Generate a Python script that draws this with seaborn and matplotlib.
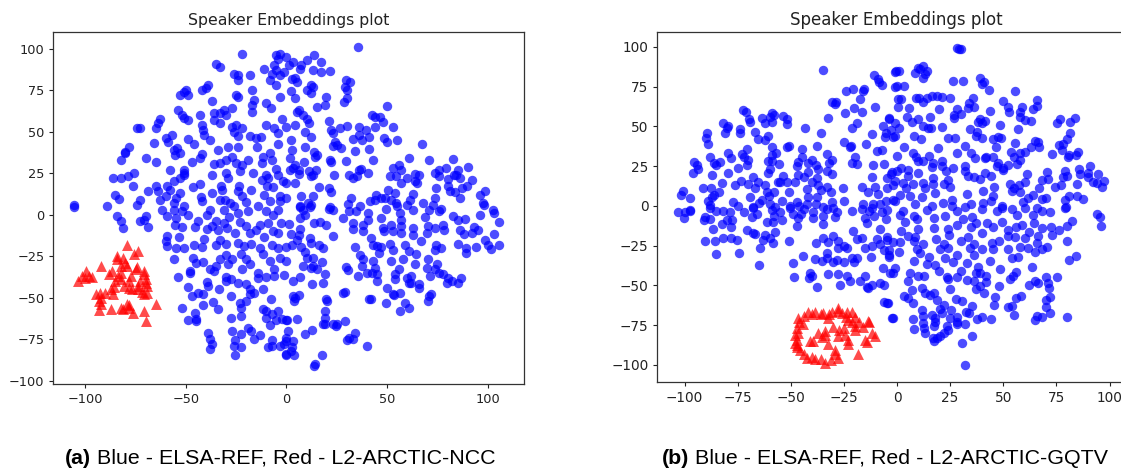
import pandas as pd
import matplotlib
matplotlib.use('Agg')
import matplotlib.pyplot as plt
import seaborn as sns

# punti (x, y)
a_blue = [
(-22,97),(-35,91),(-33,89),(-3.4,97),(-5,96),(-26,85),(-18,84),(-24,81),(-11,88),(-5,87),(-8,81),(-5,78),
(-39,78),(-42,75),(-50,75),(-53,72),(-49,72),(-17,75),(-24,71),(-3,71),(-37,68.5),(-17,66),(-10,67),(-7.5,64),
(-17,62),(-31,63),(-27,64),(-54,63),(-51,58),(-43,60),(-36,61),(-36,57),(-33,55),(-63,57.5),(-65,52),(-74.5,52),
(-41.5,51),(-42,54),(-25,54),(-27,53),(-24,47.5),(-18,47.5),(-12.5,47),(-10,54),(-2,57.5),(-4,49),(-60,46),(-57,48),
(-66,43),(-49,45.5),(-38,45),(-46,42.5),(-78,41),(-80,38),(-54.6,40),(-55.5,36),(-34,39),(-29,41),(-24,40.5),
(-14.6,40.7),(-4,42.5),(-42,36.5),(-27,35),(-11.6,35),(-8,37),(-82.4,33),(-70,34),(-65,31.7),(-47,31.5),(-36,30.5),
(-33,31),(-19,33),(-22,30),(-58,26.7),(-51,27),(-51,23.6),(-37,23.7),(-30,25),(-23,26),(-16.6,25),(-10,24),(-5,27.5),
(-76,25),(-78.6,23),(-86,22),(-82,22),(-76.5,17.4),(-65,17),(-56,20.4),(-59.6,17),(-68.7,14),(-52.7,13),(-46.4,16.4),
(-43,18.6),(-42.6,10.4),(-36.8,13),(-32.6,17.4),(-32,15),(-23.7,17.4),(-24,14),(-17.8,15),(-11.3,12),(-9.7,17),
(-6.7,16.6),(-1.7,20),(-3.4,11),(-85,12),(-83,9.6),(-73,9),(-74.5,5.6),(-63,9),(-60,11),(-56,7),(-51,5),(-30.7,8.6),
(-26,5),(-20,7.4),(-14,5),(-105.6,6),(-105.6,4.6),(-89.4,5.4),
(-84,-1),(-82,-4),(-81,-8),(-70,-1),(-73,-4),(-69,-7.6),(-59.6,-1),(-55.5,-6),(-52,-7.6),(-49,0),(-39.7,0),(-34.8,-3.6),
(-28.7,-1.6),(-23,-4.4),(-13,-6),(-6.7,0),(-2.5,-5),(-45.5,-7.6),(-39.7,-8.4),(-34,-9),(-29.5,-8),(-25.7,-11),(-18,-11),
(-6.7,-10),(-59.6,-13),(-53.3,-13.7),(-41,-14.7),(-11,-13.5),(-59.6,-19),(-51,-20),(-42,-19.7),(-35,-18.5),(-30,-17.7),
(-24,-17),(-17.4,-17.7),(-7,-18.5),(0,-19.7),(-55.8,-27),(-46.4,-26),(-41.7,-28.5),(-30,-24.5),(-22.4,-24),(-20,-27),
(-11.6,-24),(-3.4,-26),(0,-28),(-34.8,-31),(-29,-30),(-22,-32.5),(-6.4,-32.5),(-48,-33.7),(-53.8,-37.5),(-14,-35),
(-1,-36.5),(-30,-37.5),(-27.4,-39),(-10,-37.5),(-39.7,-40.8),(-24,-41),(-49,-43.6),(-33.6,-44.6),(-18,-45),(-11.6,-45),
(-41.4,-47.8),(-46.7,-49),(-27.7,-49),(-18,-48),(-7.5,-50.6),(-36.5,-52.6),(-41.4,-54.6),(-20,-52),(-52,-56),(-34,-57),
(-22.4,-56),(-11.6,-57),(-4,-58),(-45.5,-59),(-48.9,-63.7),(-45,-62.6),(-27.4,-62),(-22.4,-61),(-10,-62),(0,-63.7),
(-8.3,-66.7),(-5,-63.3),(-39,-71),(-37.8,-75),(-27,-70),(-17.4,-70),(-13,-72.7),(-16,-75),(-22.7,-72),(-25.7,-75.3),
(-22.4,-80),(-37.8,-80.7),(-9,-80),(-7,-75.3),(-3.4,-79.3),(0,-74),(-25.4,-84.3),(0,-84),
(35.4,101),(13.5,96.3),(0,95),(10,93),(17.3,92),(1,90),(6.6,87.7),(13,87),(21.5,86.3),(2.5,81.7),(5.4,80),(29.7,81),
(31.4,80),(30,75),(2,74.7),(10,75),(13,77),(12.4,73),(4,70),(19.8,70.6),(28.6,68),(15.4,64.8),(19,66),(50,65.2),(6,62.8),
(42.5,60),(46.3,58.8),(10,57.6),(21.2,56.6),(30,53.6),(26.4,52),(44,53),(52.9,53),(35.9,52.8),(39.7,51),(4,53.8),(0,52.6),
(22.3,51),(9,50),(12,47),(2,45),(33,45.7),(37.5,45),(48.4,46),(55,45),(67.3,42.7),(24,44),(23,41.5),(9.4,40.5),(27,40),
(2.5,38.7),(13.7,38),(34,38.5),(41,39.7),(14,35),(1.6,34),(21.5,33),(43,33),(61,34),(71,32.7),(82.7,33.5),(29.8,32.5),
(56,30),(8.6,31.5),(4,30),(22,31.5),(90,28.7),(37.2,27.5),(40.5,25),(75.6,26.7),(85,27),(1.6,27),(14.5,27),(51.6,23.4),
(63.7,24.4),(66,24),(73.6,25),(6,24.6),(12.4,23),(23.6,24),(33,22),(54.6,23),(80,21.6),(84.3,24),(92,20.6),(57,19),(65,19),
(4,19),(0,19),(16,16.6),(21,16),(89.8,17),(74.4,16),(80.2,17),(50.4,15),(98.4,14),(22.3,13.4),(83.8,13.4),(44.6,12),
(53.7,13),(62.8,12.6),(96,12),(7.4,11),(13.2,11),(86,10),(32.2,10),(61.2,9),(73.6,10),(97.5,7),(41.3,8),(67.8,7),(48.8,10),
(54.5,7),(10.7,7),(30.6,6.6),(6.6,5),(21.5,4.4),(36.4,5),(102.5,3),(77,3.4),(0,10),
(21.2,3.6),(6.6,4.4),(11.5,4.4),(98,5.6),(34.7,2),(40.5,1),(49.6,3.6),(56.2,1),(62.8,3),(68.6,-1.6),(76,2),(28,-2),(47,-2),
(9,-0.4),(6.6,-2),(1,-5.6),(13.7,-5),(16.5,-4.4),(19.8,-6.4),(40.5,-3),(57,-3),(82.7,-1),(88.5,-2.4),(96,0),(103,1),
(105.8,-4.4),(33,-8.4),(38,-10),(52,-6.4),(62.8,-8),(70.3,-7),(78.5,-9),(93.4,-7.6),(6.6,-8.4),(2,-11.6),(23.2,-12.7),
(48.4,-10),(57,-11),(88,-11.7),(103,-11.7),(11.5,-14),(67,-16),(98.4,-15),(51.2,-17.5),(43,-18.5),(34,-19.5),(58.7,-18),
(74.4,-18),(85.2,-17.7),(94,-19.5),(105.4,-18.5),(101.4,-20.5),(2.5,-18.5),(7.4,-19.5),(18,-20),(89.3,-20),(89,-23),
(36.7,-24.5),(47,-19.7),(9,-22.5),(64.5,-23.7),(58,-26.7),(70.3,-27),(13.2,-26),(51.7,-28),(17.8,-28.5),(64,-30),(43,-28),
(75,-30),(8.2,-31),(12.4,-32),(29.4,-31.5),(37.5,-31),(30.6,-33.5),(76,-35),(19.3,-35.5),(53.7,-35.5),(42.5,-35),(35.5,-37),
(62,-37),(86.8,-38),(71.4,-37),(80.2,-38),(6.6,-37.7),(3.3,-40),(18.2,-41),(12.7,-42),(45,-40),(54,-39),(61,-41),(66,-41.6),
(85,-41),(79.7,-41),(65.8,-44),(50,-44),(29.3,-46.8),(56.2,-47.2),(72,-47.6),(53.4,-48.6),(41.8,-50.6),(6,-48.6),(19.8,-51),
(3.8,-52),(70.3,-52),(49.3,-53),(58.7,-53),(60.7,-56),(56.5,-58),(19,-58),(19.3,-62),(5,-63),(0.5,-63.7),(29,-64),(18.2,-66),
(23.1,-66),(24.8,-67.3),(0.8,-70),(12.7,-69.3),(9.4,-72),(34.2,-71.3),(30,-75.3),(33,-74.7),(0,-76),(40,-79),(2.5,-80),
(3.8,-84.3),(17.7,-84.3),(14.4,-90),(13.7,-91.4),(0,-84.3),
# punti sovrapposti
(-24,84),(-4,94),(-6,90),(-7,85),(-3,84),(-40,76),(-51,74),(-25,72),(-16,69),(-33,61),(-30,60),(-52,60),(-49,57),(-64,55),(-73,52),
(-41,48),(-26,50),(-22,52),(-15,46),(-6,52),(-59,44),(-56,39),(-53,37),(-80,37),(-43,34),(-30,33),(-25,31),(-12,31),(-7,33),(-51,25),
(-53,22),(-29,22),(-12,21),(-9,22),(-4,24),(-64,14),(-58,15),(-55,10),(-42,8),(-33,9),(-28,7),(-22,11),(-8,8),(-3,8),(-62,3),(-56,3),
(-52,2),(-38,3),(-31,3),(-24,1),(-19,2),(-10,2),(-4,3),(-71,-3),(-55,-2),(-44,-4),(-37,-7),(-31,-5),(-20,-7),(-15,-9),(-9,-5),(-4,-11),
(-60,-16),(-55,-20),(-46,-18),(-33,-15),(-21,-19),(-13,-20),(-4,-20),(-45,-29),(-38,-33),(-33,-27),(-27,-27),(-18,-30),(-8,-28),(-48,-35),
(-36,-34),(-14,-38),(-6,-37),(-39,-43),(-30,-40),(-20,-42),(-16,-47),(-44,-47),(-23,-53),(-45,-64),(-19,-68),(-10,-58),(-7,-60),(-2,-63),
(-26,-79),(-37,-78),(-7,-79),(-1,-78),
(3,92),(-1,86),(7,90),(17,86),(4,82),(12,78),(29,77),(30,70),(5,62),(8,60),(11,55),(44,59),(48,56),(23,49),(36,48),(41,47),(50,44),(25,42),
(15,36),(3,28),(6,27),(13,24),(11,26),(31,24),(35,23),(36,27),(53,28),(57,27),(60,22),(64,20),(79,28),(83,24),(86,22),(76,23),(87,16),(81,14),
(47,10),(52,9),(55,5),(60,6),(44,9),(12,6),(8,3),(23,3),(31,2),(71,3),(73,6),(33,-5),(38,-6),(48,-8),(53,-10),(57,-7),(70,-11),(74,-8),(78,-6),
(85,-3),(86,-9),(95,-9),(92,-11),(100,-18),(63,-12),(42,-14),(45,-19),(46,-23),(53,-21),(61,-22),(74,-21),(77,-20),(6,-12),(5,-15),(12,-17),
(16,-18),(10,-26),(13,-31),(15,-33),(38,-27),(44,-32),(40,-35),(45,-36),(56,-33),(60,-38),(62,-41),(70,-32),(74,-33),(78,-36),(82,-40),(28,-47),
(41,-51),(3,-49),(4,-50),(20,-52),(71,-49),(53,-48),(25,-66),(19,-66),(31,-74),(2,-82),(3,-76),
]
a_red = [
(-79,-18.5),(-74,-22),(-76,-24),(-84,-25),(-81,-26),(-92,-31),(-99.6,-34),(-79,-31),(-74.5,-31.5),(-82,-31),(-101.8,-36.8),
(-96.8,-37.8),(-103.4,-39.8),(-86.6,-34),(-83.6,-36.8),(-77.3,-36.8),(-70.7,-34),(-70,-39),(-80.8,-43),(-85.6,-43.6),
(-77,-45),(-69.5,-43),(-72,-46.6),(-92.7,-47),(-86,-48),(-69.5,-47),(-93,-52),(-79,-54),(-65,-53.6),(-82.4,-56),(-87.4,-57),
(-93,-57.6),(-76.5,-59),(-71,-58),(-70,-64),(-94.4,-48),(-73.7,-45),(-78,-54.2),
(-84,-27),(-80,-29),(-75,-33),(-71,-36),(-88,-36),(-85,-40),(-82,-39),(-78,-40),(-73,-40),(-70,-41),(-92,-50),(-90,-47),(-87,-45),
(-78,-44),(-74,-43),(-71,-48),(-98,-37),(-100,-38),(-82,-35),(-92,-54),(-81,-57),(-78,-56),
]
b_blue = [
(-35,85.3),(-10.7,82.4),(-8.5,78.2),(-7.2,76),(-24,72.5),(-20.9,73.6),(-15.4,73.6),(-1.2,84.5),(-1,75),(-17.4,67),(-30.7,65.6),
(-28.7,65.2),(-10.3,62),(-72.3,60.4),(-59,58.3),(-53.5,56.6),(-24.5,58.3),(-20.2,61.4),(-16.6,59.3),(-32.6,55.6),(-69.6,54.5),
(-63.4,55.6),(-59,53),(-81.7,52),(-79.4,50),(-52,51.4),(-4,55),(-19,52),(-21.3,48.9),(-43.3,49.3),(-73.9,48.4),(-81,45.7),
(-66.8,46.8),(-35.9,45.7),(-6.7,50),(-89.6,45.7),(-60.6,44.3),(-11.9,45.1),(-5.6,43.6),(-1.2,44),(-65.3,42),(-62.1,41.5),
(-89.1,38.8),(-24.8,40),(-21.6,38),(-14.7,38.8),(-50.7,38),(-37.8,38),(-59,37.3),(-44.8,35.9),(-70.8,35.9),(-9.6,34.8),
(-7.2,35.2),(-79.7,33.6),(-73.1,32.7),(-59,32),(-33.1,32.5),(-88,30.6),(-78.1,30),(-19.8,30.6),(-44.8,31),(-95.4,27.5),
(-86,26.9),(-83.3,27.9),(-70.8,25.8),(-46.4,27.5),(-40.2,29),(-55.5,26.4),(-30.7,29),(-32,26.9),(-21.3,27.3),(-19,26.4),
(-11.1,25.8),(-6.1,26.2),(-60.6,28),(-93.5,23.3),(-96.2,21),(-75,24),(-79.4,21),(-60.6,20.6),(-42,21.6),(-37,23),(-87.2,19.5),
(-67.6,18.5),(-53.5,18.9),(-46.4,19.3),(-30.7,20),(-37.8,17.8),(-11.9,18.5),(-2.5,21.6),(-4.9,17.4),(-73.4,16),(-65.6,15),
(-82.2,14.7),(-55,15.3),(-76.2,13.2),(-91.5,11.6),(-25.6,11.6),(-16.6,11.8),(-10.3,12.2),(-4.9,11.1),(-33.1,12.2),(-42.5,10.7),
(-87.5,11.1),(-100.6,9.7),(-101.7,7),(-61.3,8.6),(-51,8.6),(-13.5,8.6),(-97.4,5.3),(-87.2,5.9),(-69.2,5.9),(-60.2,6.5),
(-41.7,5.9),(-37.8,5.9),(-8.8,7.4),(-77,2.8),(-63.7,3.8),(-1.7,3.8),(-30.7,2.4),(-15.8,1.3),(-11.1,1.3),(-47.2,2.8),(-88,0.7),
(-67.6,-0.4),(-57.4,-0.4),(-50.4,0.2),(-42.5,1.3),(-34.7,-0.4),(-97.4,-2.5),
(-102.9,-4),(-97.4,-3),(-100.1,-7.8),(-90.4,-6.7),(-91.1,-8.8),(-88,-1),(-81.7,-3),(-78.6,-3.6),(-77.5,-8.8),(-82.5,-11.3),
(-78.1,-13),(-86.8,-14.5),(-68.4,-6.7),(-67.6,-1.5),(-59,-2.5),(-54.3,-8.8),(-61.3,-9.8),(-58.2,-10.3),(-50.4,-1.5),(-46.4,-7.3),
(-39.4,-3.6),(-39.8,-7.3),(-47.2,-12.4),(-34.7,-11.3),(-33.1,-1.9),(-29.2,-6.7),(-28.4,-3.6),(-16.6,-1.9),(-15,-7.8),(-7.2,-3.6),
(-11.9,-1),(-70.8,-15),(-66.8,-17.8),(-62.1,-18.2),(-57.4,-16.6),(-20.9,-15.5),(-8,-14.5),(-90.4,-22),(-85.6,-22),(-81.7,-20.3),
(-75.5,-21.4),(-62.9,-21.4),(-58.2,-23.5),(-51.1,-21.8),(-38.1,-23.5),(-30,-18.7),(-32.3,-22.4),(-19,-20.7),(-16.6,-20.3),
(-9.6,-21),(-4.9,-19.3),(-1.7,-22.4),(-64.5,-26.2),(-85.2,-30.2),(-74.4,-29.8),(-27.6,-26.6),(-23.7,-26.2),(-15,-26.6),
(-33.1,-29.8),(-4,-27.7),(-44.1,-31.2),(-38.6,-33.5),(-35.4,-34.6),(-28.4,-34),(-12.2,-31.9),(-4,-31.9),(-20.5,-35.4),(-19,-32.5),
(-48.8,-36),(-65,-37.3),(-6.4,-39.2),(-41,-42.3),(-32.3,-43),(-27.9,-42.8),(-23.7,-43.8),(-48.5,-44.4),(-15,-43.8),(-17.4,-47),
(-1.7,-42.3),(-41.4,-45),(-12,-49.7),(-8,-48.6),(-26.8,-49.7),(-37.5,-51.1),(-13.5,-51.4),(-6,-60.1),(-4.5,-61.2),(-2.2,-70.6),
(28.1,99.6),(30.1,99),(-0.6,84.9),(12.4,88),(10,86.6),(8.5,83.5),(14,85),(12.4,80.3),(26.2,78.8),(30.9,78.6),(39,80.3),(40.2,76.5),
(43.5,73),(55.7,72.3),(-0.2,75.5),(3.4,75.5),(0.6,67.1),(10.5,67.7),(16.3,69.4),(21,68.4),(24.9,67.7),(35.6,68.2),(50,66),(65.7,66.7),
(0.6,62),(5.8,61.4),(12.4,65.2),(19.9,60.8),(28.1,60.8),(33.6,61.4),(43.8,59.6),(52.7,59.3),(58.7,62),(65.7,62.9),(57.9,56.2),
(-3.6,55.2),(4.5,55.8),(10,54.5),(15.5,56.2),(26.8,55.2),(39,54.5),(41.4,53.7),(63,53.7),(76.7,54.5),(83.8,55.2),(75.1,52),(81.4,53),
(14.4,48.9),(21,49.5),(48.5,51),(0.9,48.9),(34.4,48.4),(56.8,48.2),(81.4,46.1),(8.1,44),(11.3,42),(23.8,42.6),(27.3,42.6),(37.5,46.8),
(39.8,42.6),(47.7,43.6),(-1.7,43.6),(55.5,39.9),(66.2,40.5),(79.9,42),(32,38),(46.4,37.3),(3.4,37.3),(19.1,36.3),(63.1,36.9),(76,38.4),
(77.5,35.2),(53.7,34.2),(28.1,33.2),(-0.2,31.5),(7.7,33.2),(73.1,32.5),(85.4,34.2),(80.6,31),(15.1,31.5),(36.7,30),(41.4,30),(57.9,29),
(10,28.5),(21,28.5),(47.7,27.3),(56.3,26.4),(32,25.2),(90.8,25.2),(26.5,23.7),(16.3,24.4),(50,22.7),(85.8,23),(79.1,22.3),(70.5,21.6),
(61,20.2),(5.3,22.7),(-0.2,22.3),(10,20.6),(41.4,20.6),(33.6,19.1),(17.1,17.4),(94.8,19.9),(89.7,18.1),(78.3,18.1),(68.4,16.4),(97.6,15.7),
(24.2,16.4),(3,14.7),(12.4,14.7),(7.7,13.9),(53.2,13.9),(57.4,13.4),(74.4,11.8),(45.8,12.2),(84.6,13.9),(94,14.3),(96.3,11.8),(24.9,11.8),
(-1.7,13.2),(66.8,11.1),(54,9.7),(40.3,9.7),(17.9,8),(32.8,7.6),(1.4,7),(11.6,5.9),(6.1,6.5),(45,6.5),(84.6,6.5),(87.7,4.4),(68.1,4.2),
(61.8,4.9),(59.5,2.8),(79.1,3.8),(25.7,3.8),(40.6,1.7),(-0.9,3.4),(8.5,1.3),(21.8,1.7),(49.3,0),(32,-0.4),(16.3,0),(79.4,-0.4),
(-4.9,-2.5),(1.4,-5.7),(14,-2.5),(22.6,-6.3),(31.2,-8.4),(39.9,-1.9),(49.3,-1),(56.3,-5.7),(68.1,-3.1),(79.1,-1),(17.6,-7.8),(9.2,-8.2),
(3.8,-10.3),(35.5,-7.1),(42.2,-10.9),(49.3,-9.8),(64.5,-10.5),(64.2,-5.7),(94,-5.2),(95.5,-6.7),(96,-12.6),(82.2,-9.2),(79.9,-12.4),
(10,-14.5),(17.4,-14),(24.2,-14.5),(34.8,-13),(39.9,-17.2),(52.4,-15.1),(58.7,-12),(72.3,-13),(1.9,-15.7),(8.5,-19.7),(24.5,-18.2),
(33.6,-19.3),(55.5,-19.7),(66.5,-18.7),(72.8,-18.2),(62.1,-16.1),(18.4,-21),(-4.9,-21.4),(1.4,-22.4),(79.9,-22),(44.6,-23.5),(9.3,-27),
(24.2,-26.6),(20.2,-27.2),(34.4,-26.6),(52.4,-27.2),(61.8,-26.6),(70.8,-25.6),(0.9,-29.1),(-4,-30.8),(10.8,-29.3),(45.3,-27),(64.7,-28.7),
(84.1,-31.2),(81,-34),(36.4,-30.8),(57.1,-31.9),(54,-33),(22.6,-32.9),(8,-34.6),(26.5,-35),(43.8,-34.4),(14.3,-36.3),(63.7,-38.1),
(38.3,-38.1),(-0.9,-39.2),(48.5,-39.8),(19.8,-40.9),(30.1,-40.7),(55.9,-41.3),(-3.3,-42.3),(39.1,-42.3),(54.8,-43.8),(12.9,-43.8),
(23.4,-44.4),(28.1,-44.9),(32.8,-46.5),(70.1,-44.9),(75.2,-44.9),(5,-47.2),(66.2,-48.6),(62.1,-49.7),(71.2,-48.6),(48.2,-50.3),(11.9,-51.4),
(39.1,-50.3),(37,-52.2),(71.7,-51.4),(41.1,-54.7),(17.6,-54.9),(15.5,-56),(3.4,-56.4),(5,-58),(58.4,-56.6),(72,-57),(55.9,-58),(27.6,-58.7),
(30.7,-59.7),(7.7,-61.2),(-4.9,-61.2),(35.1,-62.9),(45.7,-62.2),(54,-62.7),(52.1,-63.7),(70.1,-63.3),(11.9,-65.4),(20.2,-65),(25.3,-65.4),
(32.5,-66.4),(72,-67),(55.2,-68.5),(79.9,-69.6),(-1.7,-70.6),(7.7,-71.3),(16.3,-68.5),(17.9,-70.6),(24.9,-70.6),(39.9,-69.6),(44.1,-71.3),
(37.5,-71.1),(65,-71.7),(68.1,-69.6),(12.4,-73.8),(28.1,-72.7),(32,-74.2),(17.6,-75.2),(8.1,-77.4),(23.4,-75.2),(23.8,-78),(12.9,-76.5),
(20.2,-81.5),(17.1,-82.8),(17.6,-84.9),(35.5,-81.5),(30.7,-86.1),(32,-100),
# punti sovrapposti
(-9,80),(-16,72),(-29,64),(-71,59),(-58,57),(-60,56),(-69,53),(-52,55),(-80,49),(-62,52),(-74,46),(-90,43),(-5,46),(-3,48),(-22,37),(-52,37),
(-57,33),(-59,28),(-72,31),(-70,29),(-85,26),(-94,26),(-47,25),(-42,27),(-38,26),(-33,22),(-60,23),(-56,15),(-52,15),(-48,15),(-44,18),(-37,13),
(-36,10),(-40,15),(-31,9),(-70,14),(-67,11),(-62,13),(-58,9),(-86,7),(-84,9),(-89,3),(-85,-3),(-75,0),(-72,-4),(-65,2),(-60,1),(-54,3),(-46,0),
(-44,-2),(-38,1),(-30,-1),(-25,3),(-21,-3),(-13,-3),(-8,1),(-5,3),(-100,-4),(-88,-8),(-80,-9),(-66,-5),(-58,-6),(-55,-4),(-49,-5),(-45,-5),(-35,-6),
(-14,-11),(-11,-6),(-5,-8),(-68,-17),(-60,-20),(-78,-20),(-35,-20),(-28,-22),(-25,-25),(-12,-25),(-8,-24),(-6,-28),(-33,-33),(-30,-35),(-25,-35),
(-21,-33),(-40,-44),(-22,-47),(-14,-51),(-6,-50),
(11,86),(13,83),(1,85),(29,99),(41,78),(2,67),(9,68),(14,68),(19,69),(34,65),(36,62),(30,58),(27,57),(38,53),(40,52),(7,53),(12,50),(16,49),(-1,52),
(37,44),(49,43),(45,42),(52,62),(58,59),(64,61),(60,54),(65,41),(67,37),(78,39),(60,34),(58,33),(55,31),(84,32),(81,32),(35,33),(42,31),(45,31),
(52,26),(50,24),(47,25),(12,28),(9,31),(17,27),(21,25),(23,22),(32,22),(36,18),(39,17),(44,19),(2,24),(5,19),(-3,20),(-1,16),(4,11),(13,11),(17,14),
(22,14),(60,15),(71,17),(77,13),(80,19),(86,20),(90,21),(92,15),(55,11),(58,9),(64,7),(70,5),(81,6),(26,0),(35,1),(44,3),(47,-3),(54,-2),(60,-1),
(66,-1),(72,-4),(3,-3),(8,-6),(28,-3),(28,-12),(37,-11),(45,-13),(52,-19),(56,-13),(60,-20),(68,-14),(76,-15),(5,-19),(8,-22),(12,-24),(22,-24),
(30,-22),(36,-24),(40,-27),(48,-22),(58,-26),(66,-23),(68,-27),(28,-31),(33,-36),(15,-32),(18,-37),(37,-42),(42,-44),(6,-42),(10,-44),(24,-46),
(36,-47),(42,-48),(53,-46),(65,-47),(7,-53),(13,-55),(25,-52),(46,-57),(70,-59),(19,-59),(22,-62),(12,-69),(21,-67),(18,-73),(28,-70),(34,-67),
(13,-80),(19,-83),(22,-80),(28,-74),(66,-69),
]
b_red = [
(-42,-66.9),(-38.6,-66.9),(-34.7,-67.5),(-30.7,-66.4),(-27.9,-64.3),(-23.7,-66.4),(-21.3,-66.9),(-32.3,-70.6),(-46.4,-70.6),(-22.9,-71.7),
(-13.5,-72.3),(-44.1,-74.4),(-19.7,-75.2),(-33.9,-78.6),(-27.3,-78),(-46.4,-80),(-24.5,-81.1),(-35.4,-82.2),(-11.9,-80),(-10.4,-81.5),
(-39.8,-84.9),(-47.2,-84.3),(-14.3,-85.7),(-32.6,-87),(-22.9,-87),(-45.6,-90.5),(-29.2,-90.5),(-18.5,-93),(-27.9,-95.4),(-42.5,-95.8),
(-38.6,-96.2),(-33.9,-98.5),(-47.2,-87.4),(-21.3,-73.1),
(-46,-73),(-44,-69),(-40,-68),(-36,-68),(-32,-68),(-28,-66),(-26,-67),(-24,-70),(-20,-70),(-18,-73),(-16,-76),(-20,-78),(-25,-77),(-47,-77),
(-48,-81),(-48,-86),(-47,-89),(-44,-93),(-40,-95),(-36,-96),(-31,-97),(-29,-93),(-13,-73),(-34,-81),(-37,-80),(-30,-76),(-23,-84),(-28,-82),
(-15,-84),(-41,-85),
]

title = 'Speaker Embeddings plot'
a_xticks = [-100, -50, 0, 50, 100]
a_yticks = [-100, -75, -50, -25, 0, 25, 50, 75, 100]
b_xticks = [-100, -75, -50, -25, 0, 25, 50, 75, 100]
b_yticks = [-100, -75, -50, -25, 0, 25, 50, 75, 100]

sns.set_style('ticks')
W, H = 1121, 472
fig = plt.figure(figsize=(W / 100, H / 100), dpi=100)


def pannello(box, blue, red, xlim, ylim, xticks, yticks, fs):
    ax = fig.add_axes([box[0] / W, 1 - box[3] / H, (box[2] - box[0]) / W, (box[3] - box[1]) / H])
    df_b = pd.DataFrame(blue, columns=['x', 'y'])
    df_r = pd.DataFrame(red, columns=['x', 'y'])
    sns.scatterplot(data=df_b, x='x', y='y', color='blue', alpha=0.7, s=46, linewidth=0, ax=ax)
    sns.scatterplot(data=df_r, x='x', y='y', color='red', marker='^', alpha=0.7, s=62, linewidth=0, ax=ax)
    ax.set_xlim(xlim)
    ax.set_ylim(ylim)
    ax.set_xticks(xticks)
    ax.set_yticks(yticks)
    ax.set_xlabel('')
    ax.set_ylabel('')
    ax.tick_params(labelsize=fs, length=3.2, width=0.8, color='#222222', labelcolor='#222222', pad=3)
    for s in ax.spines.values():
        s.set_visible(True)
        s.set_linewidth(0.9)
        s.set_color('#333333')
    ax.set_title(title, fontsize=fs * 1.22, color='#222222', pad=5)
    return ax


pannello((53, 32, 524, 384), a_blue, a_red, (-116, 118), (-102, 110), a_xticks, a_yticks, 9.3)
# il pannello di destra esce dal bordo della figura
pannello((657, 32, 1135, 382), b_blue, b_red, (-113, 112), (-110.7, 109.4), b_xticks, b_yticks, 9.8)

cap = dict(fontsize=15.4, family='Liberation Sans', va='baseline', color='black')
fig.text(65 / W, 1 - 464 / H, '(a)', fontweight='bold', **cap)
fig.text(97 / W, 1 - 464 / H, 'Blue - ELSA-REF, Red - L2-ARCTIC-NCC', **cap)
fig.text(662 / W, 1 - 464 / H, '(b)', fontweight='bold', **cap)
fig.text(695 / W, 1 - 464 / H, 'Blue - ELSA-REF, Red - L2-ARCTIC-GQTV', **cap)

fig.savefig('out.png', dpi=100)
